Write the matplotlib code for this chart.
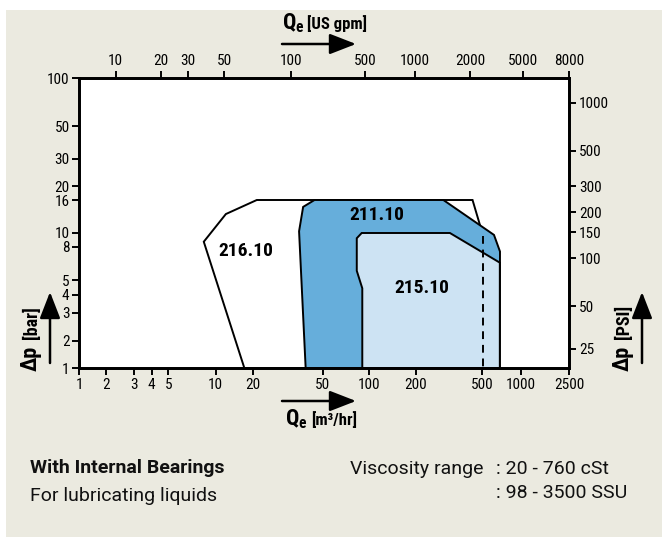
import numpy as np
import matplotlib
matplotlib.use("Agg")
import matplotlib.pyplot as plt
from matplotlib import font_manager
from matplotlib.patches import Polygon, Rectangle, FancyArrowPatch
from matplotlib.ticker import NullLocator

# ---------------- data ----------------
# flow tick labels (bottom, m3/hr) and (top, US gpm)
q_m3_ticks = [1, 2, 3, 4, 5, 10, 20, 50, 100, 200, 500, 1000, 2500]
q_gpm_ticks = [10, 20, 30, 50, 100, 500, 1000, 2000, 5000, 8000]
# pressure tick labels (left, bar) and (right, PSI)
dp_bar_ticks = [1, 2, 3, 4, 5, 8, 10, 16, 20, 30, 50, 100]
dp_psi_ticks = [25, 50, 100, 150, 200, 300, 500, 1000]

# pump range envelopes: flow [m3/hr], pressure [bar]
p216_q = [17.1, 8.4, 12.1, 21.1, 440, 488, 520]
p216_dp = [1.0, 8.7, 13.1, 16.0, 16.0, 11.2, 1.0]
p211_q = [40.0, 36.7, 38.7, 44.9, 293, 622, 692, 690]
p211_dp = [1.0, 10.25, 14.5, 16.0, 16.0, 9.7, 7.5, 1.0]
p215_q = [90.1, 90.1, 83.0, 83.0, 89.3, 321, 690, 690]
p215_dp = [1.0, 4.42, 5.7, 9.2, 10.0, 10.0, 6.4, 1.0]
dash_q = [510, 510]
dash_dp = [9.5, 1.0]
labels = ["216.10", "211.10", "215.10"]

# ---------------- nomogram axis calibration (hand-drawn scales, figure px) ----------------
W, H = 667, 541
BOX_L, BOX_R, BOX_T, BOX_B = 79.3, 569.3, 78.0, 368.0
q_m3_px = [79.3, 105.7, 134, 151.7, 168.3, 215.7, 252.7, 322.7, 369.3, 416, 481.7, 520.7, 569.3]
q_gpm_px = [115.7, 160.7, 188.3, 224, 291, 365, 415, 470, 523.3, 569.3]
dp_bar_px = [368, 341, 313, 295, 280, 247, 233, 200, 186, 159, 126, 78]
dp_psi_px = [349, 306, 258, 232, 212, 186, 151, 103]


def make_scale(vals, pix, sign=1.0):
    lv = np.log10(np.asarray(vals, float))
    p = sign * np.asarray(pix, float)

    def fwd(v):
        l = np.log10(np.clip(np.asarray(v, float), 1e-12, None))
        out = np.interp(l, lv, p)
        s0 = (p[1] - p[0]) / (lv[1] - lv[0])
        s1 = (p[-1] - p[-2]) / (lv[-1] - lv[-2])
        out = np.where(l < lv[0], p[0] + (l - lv[0]) * s0, out)
        out = np.where(l > lv[-1], p[-1] + (l - lv[-1]) * s1, out)
        return out

    def inv(x):
        x = np.asarray(x, float)
        out = np.interp(x, p, lv)
        s0 = (lv[1] - lv[0]) / (p[1] - p[0])
        s1 = (lv[-1] - lv[-2]) / (p[-1] - p[-2])
        out = np.where(x < p[0], lv[0] + (x - p[0]) * s0, out)
        out = np.where(x > p[-1], lv[-1] + (x - p[-1]) * s1, out)
        return 10.0 ** out

    return fwd, inv


# ---------------- fonts ----------------
names = {f.name for f in font_manager.fontManager.ttflist}
fam = "DejaVu Sans"
for cand in ["Liberation Sans Narrow", "Roboto Condensed", "Open Sans Condensed", "Roboto", "Liberation Sans"]:
    if cand in names:
        fam = cand
        break
fam2 = "Roboto" if "Roboto" in names else fam
plt.rcParams["font.family"] = [fam, "DejaVu Sans"]
plt.rcParams["mathtext.fontset"] = "custom"
plt.rcParams["mathtext.rm"] = fam
plt.rcParams["mathtext.bf"] = fam + ":bold"

BG = "#ebeae0"
DARK = "#66aedb"
LIGHT = "#cde3f3"

fig = plt.figure(figsize=(W / 100, H / 100), dpi=100, facecolor="white")
fig.add_artist(Rectangle((6 / W, 1 - 537 / H), (662 - 6) / W, (537 - 10) / H,
                         transform=fig.transFigure, facecolor=BG, edgecolor="none", zorder=-10))

ax = fig.add_axes([BOX_L / W, 1 - BOX_B / H, (BOX_R - BOX_L) / W, (BOX_B - BOX_T) / H])
ax.set_facecolor("white")

fx, ix = make_scale(q_m3_ticks, q_m3_px)
fy, iy = make_scale(dp_bar_ticks, dp_bar_px, sign=-1.0)
ax.set_xscale("function", functions=(fx, ix))
ax.set_yscale("function", functions=(fy, iy))
ax.set_xlim(float(ix(BOX_L)), float(ix(BOX_R)))
ax.set_ylim(float(iy(-BOX_B)), float(iy(-BOX_T)))

# envelopes
ax.add_patch(Polygon(np.column_stack([p216_q, p216_dp]), closed=True, facecolor="white",
                     edgecolor="black", lw=1.4, joinstyle="miter", zorder=2))
ax.add_patch(Polygon(np.column_stack([p211_q, p211_dp]), closed=True, facecolor=DARK,
                     edgecolor="black", lw=1.4, joinstyle="miter", zorder=3))
ax.add_patch(Polygon(np.column_stack([p215_q, p215_dp]), closed=True, facecolor=LIGHT,
                     edgecolor="black", lw=1.4, joinstyle="miter", zorder=4))
ax.plot(dash_q, dash_dp, color="black", lw=1.4, ls=(0, (4, 3)), zorder=5)

for s in ax.spines.values():
    s.set_linewidth(1.8)
    s.set_zorder(10)

tick_kw = dict(direction="out", length=5, width=1.4, labelsize=11, pad=2, colors="black")
ax.set_xticks(q_m3_ticks, labels=[str(v) for v in q_m3_ticks])
ax.set_yticks(dp_bar_ticks, labels=[str(v) for v in dp_bar_ticks])
ax.xaxis.set_minor_locator(NullLocator())
ax.yaxis.set_minor_locator(NullLocator())
ax.tick_params(axis="both", **tick_kw)

# top axis (US gpm)
axt = ax.twiny()
ftx, itx = make_scale(q_gpm_ticks, q_gpm_px)
axt.set_xscale("function", functions=(ftx, itx))
axt.set_xlim(float(itx(BOX_L)), float(itx(BOX_R)))
axt.set_xticks(q_gpm_ticks, labels=[str(v) for v in q_gpm_ticks])
axt.xaxis.set_minor_locator(NullLocator())
axt.tick_params(axis="x", **tick_kw)

# right axis (PSI)
axr = ax.twinx()
fry, iry = make_scale(dp_psi_ticks, dp_psi_px, sign=-1.0)
axr.set_yscale("function", functions=(fry, iry))
axr.set_ylim(float(iry(-BOX_B)), float(iry(-BOX_T)))
axr.set_yticks(dp_psi_ticks, labels=[str(v) for v in dp_psi_ticks])
axr.yaxis.set_minor_locator(NullLocator())
axr.tick_params(axis="y", **tick_kw)
for a in (axt, axr):
    for s in a.spines.values():
        s.set_linewidth(1.8)


def ftext(x, y, s, **kw):
    return fig.text(x / W, 1 - y / H, s, **kw)


def farrow(x0, y0, x1, y1):
    fig.add_artist(FancyArrowPatch((x0 / W, 1 - y0 / H), (x1 / W, 1 - y1 / H),
                                   transform=fig.transFigure,
                                   arrowstyle="-|>,head_length=0.9,head_width=0.35",
                                   mutation_scale=18, lw=1.8, color="black",
                                   shrinkA=0, shrinkB=0))


# region labels
for (x, y), s in zip([(246, 251), (377, 215), (422, 288)], labels):
    ftext(x, y, s, ha="center", va="center", fontsize=14, fontweight="bold")

# axis titles
ftext(282, 29, r"$\mathbf{Q_e}$", ha="left", va="baseline", fontsize=16)
ftext(307, 29, "[US gpm]", ha="left", va="baseline", fontsize=12, fontweight="bold")
farrow(282, 44, 356, 44)
ftext(285, 425, r"$\mathbf{Q_e}$", ha="left", va="baseline", fontsize=16)
ftext(311, 425, "[m³/hr]", ha="left", va="baseline", fontsize=12, fontweight="bold")
farrow(282, 401, 356, 401)

for xb, unit, xa in [(37, "[bar]", 50), (629, "[PSI]", 642)]:
    ftext(xb, 371, "Δp", ha="left", va="baseline", rotation=90, rotation_mode="anchor",
          fontsize=16, fontweight="bold")
    ftext(xb, 339, unit, ha="left", va="baseline", rotation=90, rotation_mode="anchor",
          fontsize=13, fontweight="bold")
    farrow(xa, 363, xa, 292)

# footer text
foot = dict(ha="left", va="baseline", fontsize=14, family=[fam2, "DejaVu Sans"],
            color="#111111")
ftext(30, 473, "With Internal Bearings", fontweight="bold", **foot)
ftext(30, 501, "For lubricating liquids", **foot)
ftext(350, 474, "Viscosity range", **foot)
ftext(496, 474, ": 20 - 760 cSt", **foot)
ftext(496, 498, ": 98 - 3500 SSU", **foot)

fig.savefig("out.png", dpi=100, facecolor=fig.get_facecolor())
